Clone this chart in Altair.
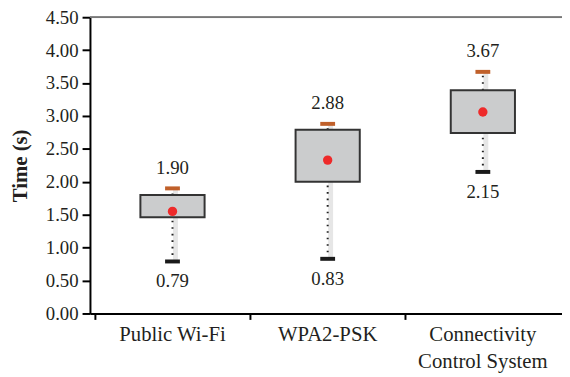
import altair as alt
import pandas as pd

categories = ["Public Wi-Fi", "WPA2-PSK", "Connectivity Control System"]
label_lines = [["Public Wi-Fi"], ["WPA2-PSK"], ["Connectivity", "Control System"]]
positions = [0.5, 1.5, 2.5]
min_vals = [0.79, 0.83, 2.15]
q1_vals = [1.46, 2.00, 2.74]
q3_vals = [1.80, 2.79, 3.39]
max_vals = [1.90, 2.88, 3.67]
mean_vals = [1.55, 2.33, 3.06]
y_ticks = [0, 0.5, 1, 1.5, 2, 2.5, 3, 3.5, 4, 4.5]

df = pd.DataFrame({
    "cat": categories,
    "pos": positions,
    "min": min_vals,
    "q1": q1_vals,
    "q3": q3_vals,
    "max": max_vals,
    "mean": mean_vals,
    "minlab": [f"{v:.2f}" for v in min_vals],
    "maxlab": [f"{v:.2f}" for v in max_vals],
})
lab_df = pd.DataFrame({"pos": positions, "lines": label_lines})

FONT = "Liberation Serif"
TXT = "#231f20"
W, H = 478, 300

xscale = alt.Scale(domain=[0, W / 160.5], nice=False, zero=False)
yscale = alt.Scale(domain=[0, 4.5], nice=False)

x_enc = alt.X("pos:Q", scale=xscale, axis=alt.Axis(
    values=[0, 1, 2], labels=False, title=None, grid=False,
    domainColor="black", domainWidth=2, tickColor="black", tickWidth=2, tickSize=6))
y_axis = alt.Axis(values=y_ticks, format=".2f", title="Time (s)", grid=False,
                  labelOverlap=False, labelBound=False, labelFlush=False,
                  domainColor="black", domainWidth=2, tickColor="black", tickWidth=2,
                  tickSize=8, labelPadding=4, labelFont=FONT, labelFontSize=19,
                  labelColor=TXT, titleFont=FONT, titleFontSize=21,
                  titleFontWeight="bold", titleColor=TXT, titlePadding=15)


def yq(field):
    return alt.Y(field, type="quantitative", scale=yscale, axis=y_axis)


base = alt.Chart(df)

top_rule = base.mark_rule(color="#777", strokeWidth=1.5).encode(
    y=alt.value(0), x=alt.value(0), x2=alt.value(W))

shadow_lo = base.mark_rule(color="#e6e6e6", strokeWidth=5, xOffset=3).encode(
    x=x_enc, y=yq("min"), y2="q1:Q")
shadow_hi = base.mark_rule(color="#e6e6e6", strokeWidth=5, xOffset=3).encode(
    x=x_enc, y=yq("q3"), y2="max:Q")
wh_lo = base.mark_rule(color="#222", strokeWidth=2, strokeDash=[1.6, 5]).encode(
    x=x_enc, y=yq("min"), y2="q1:Q")
wh_hi = base.mark_rule(color="#222", strokeWidth=2, strokeDash=[1.6, 5]).encode(
    x=x_enc, y=yq("q3"), y2="max:Q")

box = base.mark_bar(size=65, orient="vertical", color="#cbcccd", stroke="#333",
                    strokeWidth=2, opacity=1).encode(
    x=x_enc, y=yq("q1"), y2="q3:Q")

max_cap = base.mark_tick(orient="horizontal", size=15, thickness=4, color="#c0602a",
                         opacity=1).encode(x=x_enc, y=yq("max"))
min_cap = base.mark_tick(orient="horizontal", size=15, thickness=4, color="#1a1a1a",
                         opacity=1).encode(x=x_enc, y=yq("min"))

mean_pt = base.mark_circle(size=90, color="#ee2a2a", opacity=1).encode(
    x=x_enc, y=yq("mean"))

max_txt = base.mark_text(font=FONT, fontSize=19, color=TXT, baseline="bottom", dy=-11).encode(
    x=x_enc, y=yq("max"), text="maxlab:N")
min_txt = base.mark_text(font=FONT, fontSize=19, color=TXT, baseline="top", dy=11).encode(
    x=x_enc, y=yq("min"), text="minlab:N")

cat_txt = alt.Chart(lab_df).mark_text(font=FONT, fontSize=21, color=TXT, baseline="top",
                                      lineHeight=27).encode(
    x=x_enc, y=alt.value(H + 11), text="lines")

chart = alt.layer(shadow_lo, shadow_hi, wh_lo, wh_hi, box, max_cap, min_cap,
                  mean_pt, max_txt, min_txt, cat_txt, top_rule).properties(
    width=W, height=H,
    autosize=alt.AutoSizeParams(type="none"),
    padding={"left": 83, "top": 7, "right": 0, "bottom": 62},
).configure_view(stroke=None).configure(background="white")

chart.save("out.html", embed_options={"renderer": "svg", "actions": False})
